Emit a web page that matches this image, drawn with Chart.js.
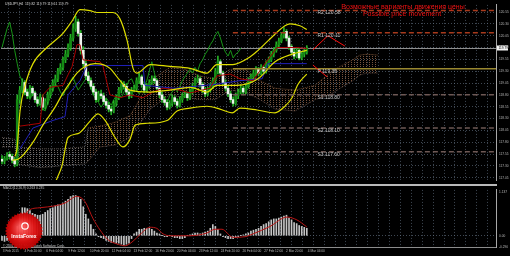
<!DOCTYPE html>
<html><head><meta charset="utf-8">
<script src="https://cdn.jsdelivr.net/npm/chart.js@4.4.1/dist/chart.umd.min.js"></script>
<style>
html,body{margin:0;padding:0;background:#000;width:510px;height:256px;overflow:hidden}
#wrap{position:relative;width:510px;height:256px;background:#000}
canvas{position:absolute;left:0}
#cMain{top:0}
#cMacd{top:185px}
#sep{position:absolute;left:0;top:184px;width:497px;height:2px;background:#b9b9b9}
</style></head><body>
<div id="wrap">
<canvas id="cMain" width="510" height="185"></canvas>
<canvas id="cMacd" width="510" height="71"></canvas>
<div id="sep"></div>
</div>
<script>
// ---------- DATA ----------
const symbolTitle = "USDJPY,H4  119.82 119.79 119.61 119.79";
const macdTitle = "MACD(12,26,9) 0.263 0.235";
const copyrightText = "© 2001-2014, MetaQuotes Software Corp.";
const noteRu = "Возможные варианты движения цены";
const noteEn = "Possible price movement";
const logoText = "InstaForex";

const xLabels = ["3 Feb 2015","4 Feb 20:00","6 Feb 04:00","9 Feb 12:00","10 Feb 20:00","12 Feb 04:00","13 Feb 12:00","16 Feb 20:00","20 Feb 04:00","23 Feb 12:00","24 Feb 20:00","26 Feb 04:00","27 Feb 12:00","2 Mar 20:00","4 Mar 04:00"];
const priceTicks = ["120.55","120.30","120.05","119.80","119.55","119.30","119.05","118.80","118.55","118.30","118.05","117.80","117.55","117.30","117.05"];
const macdTicks = [1.137, 0, -0.290];
const macdTickLabels = ["1.137","0.00","-0.290"];

const openP = [
117.44,117.40,117.46,117.54,117.50,117.42,117.34,118.70,118.90,119.06,
118.86,118.78,118.94,118.84,118.70,118.62,118.74,118.54,118.66,118.80,
118.94,119.06,119.14,119.30,119.38,119.54,119.66,119.80,120.00,120.20,
120.34,120.10,119.74,119.46,119.20,119.10,118.98,118.86,118.70,118.82,
118.78,118.66,118.58,118.50,118.46,118.62,118.74,118.90,119.02,118.98,
118.86,118.78,118.90,118.94,119.10,119.18,119.02,118.90,118.98,119.06,
119.14,119.10,118.94,118.80,118.70,118.64,118.54,118.62,118.74,118.66,
118.58,118.70,118.78,118.82,118.74,118.86,118.98,119.10,119.14,119.02,
118.90,118.82,118.90,118.98,119.10,119.30,119.50,119.26,119.06,118.94,
118.82,118.70,118.62,118.78,118.86,118.94,118.86,118.98,119.10,119.18,
119.26,119.34,119.26,119.38,119.30,119.46,119.54,119.66,119.74,119.86,
119.94,120.06,120.14,120.00,119.82,119.70,119.62,119.74,119.58,119.66,
119.70];
const highP = [
117.52,117.50,117.58,117.60,117.55,117.48,118.80,118.98,119.14,119.10,
118.92,119.00,118.98,118.88,118.76,118.82,118.80,118.72,118.86,119.00,
119.12,119.22,119.36,119.46,119.60,119.74,119.88,120.08,120.30,120.46,
120.40,120.16,119.82,119.54,119.28,119.16,119.04,118.92,118.88,118.90,
118.84,118.72,118.64,118.56,118.68,118.80,118.96,119.10,119.08,119.04,
118.92,118.96,119.00,119.16,119.26,119.22,119.08,119.04,119.12,119.20,
119.20,119.14,118.98,118.86,118.76,118.70,118.68,118.80,118.78,118.72,
118.76,118.84,118.88,118.86,118.92,119.04,119.16,119.22,119.18,119.06,
118.96,118.96,119.04,119.16,119.36,119.62,119.54,119.30,119.12,119.00,
118.88,118.76,118.84,118.92,119.00,118.98,119.04,119.16,119.24,119.32,
119.40,119.38,119.44,119.42,119.52,119.60,119.72,119.80,119.92,120.00,
120.12,120.22,120.18,120.04,119.86,119.76,119.80,119.78,119.72,119.76,
119.84];
const lowP = [
117.34,117.34,117.42,117.44,117.36,117.28,117.30,118.62,118.84,118.80,
118.72,118.74,118.78,118.64,118.56,118.58,118.48,118.50,118.60,118.74,
118.88,119.00,119.08,119.24,119.32,119.48,119.60,119.74,119.94,120.14,
120.04,119.66,119.40,119.12,119.04,118.92,118.80,118.64,118.66,118.72,
118.60,118.52,118.44,118.38,118.42,118.56,118.70,118.84,118.92,118.80,
118.72,118.74,118.86,118.90,119.04,118.96,118.84,118.86,118.94,119.02,
119.04,118.88,118.74,118.64,118.58,118.48,118.50,118.56,118.60,118.52,
118.54,118.64,118.74,118.68,118.70,118.82,118.94,119.06,118.96,118.84,
118.76,118.78,118.86,118.94,119.04,119.24,119.20,119.00,118.88,118.76,
118.64,118.56,118.58,118.72,118.82,118.80,118.82,118.94,119.06,119.12,
119.20,119.20,119.22,119.24,119.26,119.40,119.50,119.60,119.70,119.80,
119.90,120.00,119.94,119.76,119.64,119.56,119.58,119.54,119.54,119.60,
119.66];
const closeP = [
117.40,117.46,117.54,117.50,117.42,117.34,118.70,118.90,119.06,118.86,
118.78,118.94,118.84,118.70,118.62,118.74,118.54,118.66,118.80,118.94,
119.06,119.14,119.30,119.38,119.54,119.66,119.80,120.00,120.20,120.34,
120.10,119.74,119.46,119.20,119.10,118.98,118.86,118.70,118.82,118.78,
118.66,118.58,118.50,118.46,118.62,118.74,118.90,119.02,118.98,118.86,
118.78,118.90,118.94,119.10,119.18,119.02,118.90,118.98,119.06,119.14,
119.10,118.94,118.80,118.70,118.64,118.54,118.62,118.74,118.66,118.58,
118.70,118.78,118.82,118.74,118.86,118.98,119.10,119.14,119.02,118.90,
118.82,118.90,118.98,119.10,119.30,119.50,119.26,119.06,118.94,118.82,
118.70,118.62,118.78,118.86,118.94,118.86,118.98,119.10,119.18,119.26,
119.34,119.26,119.38,119.30,119.46,119.54,119.66,119.74,119.86,119.94,
120.06,120.14,120.00,119.82,119.70,119.62,119.74,119.58,119.66,119.70,
119.79];

// Chikou span (green), starts at bar 0
const chikouSpan = [
119.80,120.00,120.20,120.34,120.10,119.74,119.46,119.20,119.10,118.98,
118.86,118.70,118.82,118.78,118.66,118.58,118.50,118.46,118.62,118.74,
118.90,119.02,118.98,118.86,118.78,118.90,118.94,119.10,119.18,119.02,
118.90,118.98,119.06,119.14,119.10,118.94,118.80,118.70,118.64,118.54,
118.62,118.74,118.66,118.58,118.70,118.78,118.82,118.74,118.86,118.98,
119.10,119.14,119.02,118.90,118.82,118.90,118.98,119.10,119.30,119.50,
119.26,119.06,118.94,118.82,118.70,118.62,118.78,118.86,118.94,118.86,
118.98,119.10,119.18,119.26,119.34,119.26,119.38,119.30,119.46,119.54,
119.66,119.74,119.86,119.94,120.06,120.14,120.00,119.82,119.70,119.62,
119.74,119.58,119.66,119.70,119.79];

// [bar, price] readings
const bbUpper = [[5.1,117.50],[5.9,117.66],[7.1,118.46],[9.1,119.00],[12.2,119.46],[17.7,119.80],[24.0,120.10],[27.6,120.36],[30.7,120.60],[34.6,120.58],[37.4,120.54],[43.7,120.54],[46.5,120.40],[49.2,119.96],[51.6,119.36],[53.1,119.26],[58.3,119.44],[66.1,119.40],[74.0,119.36],[80.7,119.26],[84.6,119.44],[90.9,119.44],[97.6,119.60],[100.8,119.74],[104.7,119.94],[111.4,120.26],[113.4,120.30],[117.3,120.26],[120.0,120.18]];
const bbMiddle = [[4.0,117.42],[6.3,117.44],[12.2,117.80],[16.1,118.16],[20.9,118.54],[23.6,118.80],[26.8,119.06],[29.5,119.26],[32.7,119.40],[36.6,119.46],[39.8,119.44],[42.5,119.36],[46.5,119.10],[50.4,118.90],[58.3,118.86],[66.1,118.90],[74.0,118.96],[80.7,118.86],[84.6,119.00],[92.5,119.00],[100.8,119.14],[107.5,119.50],[114.2,119.66],[120.0,119.74]];
const bbLower = [[18.9,116.70],[21.7,117.04],[23.6,117.30],[26.0,117.90],[29.9,117.98],[34.6,118.24],[37.8,118.40],[40.6,118.26],[44.5,117.90],[47.6,117.70],[50.4,117.86],[52.4,118.16],[57.1,118.20],[65.0,118.26],[68.9,118.46],[74.0,118.52],[80.7,118.56],[85.8,118.50],[90.6,118.42],[93.7,118.52],[100.4,118.48],[107.5,118.42],[111.4,118.56],[114.2,118.74],[116.5,119.02],[120.0,119.24]];
const tenkan = [[7.1,118.14],[15.0,118.20],[16.1,118.80],[18.9,118.96],[24.0,119.00],[27.6,119.40],[29.5,119.86],[30.7,119.86],[31.9,119.54],[38.6,119.50],[39.8,119.40],[41.3,119.06],[42.5,118.80],[46.5,118.74],[50.4,118.80],[55.5,118.74],[59.4,118.86],[63.4,118.94],[70.1,118.90],[74.0,118.84],[81.9,118.94],[84.6,119.20],[89.8,119.24],[93.7,119.14],[98.8,119.10],[103.5,119.46],[108.3,119.80],[116.1,119.80],[120.0,119.78]];
const kijun = [[7.1,117.66],[12.2,118.10],[20.1,118.26],[24.8,118.34],[26.0,118.80],[30.7,119.10],[33.5,119.42],[55.5,119.42],[56.3,119.00],[68.1,118.94],[83.9,119.02],[93.7,119.10],[102.4,119.14],[104.7,119.46],[120.0,119.46]];
// Ichimoku cloud: bullish (grey) part and bearish (brown) part
const cloudGreyX = [0,5.1,5.9,15.0,22.8,32.7,33.9];
const spanAGrey  = [117.90,117.86,117.70,117.66,117.66,117.70,118.10];
const spanBGrey  = [117.70,117.70,117.34,117.26,117.30,117.34,117.40];
const cloudBrownX = [33.9,38.6,44.5,50.4,53.1,58.3,66.1,72.0,78.0,83.9,89.8,95.7,101.6,107.5,115.4,123.2,129.1,133.1,138.2,140.9,143.7,148.0];
const spanABrown  = [118.10,118.14,118.22,118.36,118.60,119.10,119.38,119.34,119.20,119.14,119.34,119.34,119.10,118.94,118.90,119.00,119.26,119.40,119.54,119.64,119.66,119.64];
const spanBBrown  = [117.40,117.70,117.74,117.90,118.10,118.50,118.80,118.74,118.70,118.70,118.90,118.86,118.70,118.50,118.46,118.70,118.80,118.94,119.10,119.22,119.26,119.26];

const levelNames = ["R2","R1","P","S1","S2","S3"];
const levelValues = [120.58,120.11,119.35,118.80,118.10,117.60];
const levelStart = 90.9;
const levelLabelAt = 124.2;

const moveUp = [[122.4,119.75],[128.3,120.05],[135.0,119.83]];
const moveDown = [[122.4,119.43],[128.0,119.18]];

const macdHist = [
-0.121,-0.145,-0.121,-0.097,-0.073,-0.097,0.242,0.557,0.726,0.726,
0.702,0.653,0.581,0.557,0.532,0.532,0.557,0.605,0.653,0.702,
0.726,0.774,0.799,0.799,0.847,0.895,0.944,1.016,1.041,1.041,
1.016,0.944,0.750,0.557,0.436,0.290,0.169,0.048,-0.024,-0.048,
-0.073,-0.121,-0.145,-0.169,-0.169,-0.194,-0.194,-0.218,-0.242,-0.218,
-0.194,-0.073,0.048,0.097,0.169,0.169,0.194,0.194,0.194,0.169,
0.121,0.073,0.048,0.005,-0.024,-0.024,0.005,-0.024,-0.048,-0.048,
-0.073,-0.073,-0.048,0.005,0.024,0.048,0.073,0.073,0.048,0.073,
0.097,0.121,0.194,0.290,0.242,0.169,0.048,-0.024,-0.048,-0.073,
-0.073,-0.073,-0.048,-0.024,0.005,0.024,0.048,0.073,0.121,0.145,
0.169,0.194,0.242,0.290,0.315,0.363,0.411,0.436,0.436,0.460,
0.484,0.508,0.532,0.460,0.411,0.339,0.315,0.266,0.242,0.218,
0.194];
const macdSignal = [[9.1,0.557],[11.0,0.678],[15.0,0.726],[20.9,0.774],[24.8,0.847],[29.5,1.020],[32.7,0.880],[35.8,0.450],[38.6,0.150],[41.7,-0.100],[45.7,-0.220],[48.4,-0.260],[51.6,-0.140],[54.3,0.030],[58.3,0.220],[61.0,0.190],[63.4,0.050],[66.1,0.000],[74.0,0.000],[80.7,0.073],[83.9,0.169],[86.6,0.169],[90.9,-0.040],[95.7,-0.024],[98.8,0.048],[105.5,0.242],[112.2,0.484],[116.1,0.411],[120.0,0.230]];

// ---------- STYLE / LAYOUT ----------
Chart.defaults.font.family = "'Liberation Sans', Arial, sans-serif";
const GRID = 'rgba(105,120,138,0.6)';
const AXIS_TXT = '#b8b8b8';
const XMIN = -0.39, XMAX = 194.49;
function gridTicks(){ const t=[]; for(let k=0;;k++){ const v=0.3+k*4.29; if(v>XMAX) break; t.push({value:v}); } return t; }
function pts(pairs){ return pairs.map(p=>({x:p[0],y:p[1]})); }
function lineDs(data,color,width,order,extra){
  return Object.assign({type:'line',data,borderColor:color,borderWidth:width,pointRadius:0,pointHoverRadius:0,fill:false,order,cubicInterpolationMode:'monotone'},extra||{});
}
const straight = {cubicInterpolationMode:'default',tension:0};

const mainCanvas = document.getElementById('cMain');
const mctx = mainCanvas.getContext('2d');
function dotPattern(color){
  const pc = document.createElement('canvas'); pc.width=3; pc.height=2;
  const pg = pc.getContext('2d'); pg.fillStyle=color; pg.fillRect(0,0,1,1);
  return mctx.createPattern(pc,'repeat');
}
const greyCloud = dotPattern('rgba(150,140,135,0.75)');
const brownCloud = dotPattern('rgba(140,98,70,0.85)');

const bars = closeP.map((_,i)=>i);
const bodyColors = bars.map(i => closeP[i] >= openP[i] ? '#158a15' : '#eef6ee');

const datasets = [
  lineDs(cloudGreyX.map((x,k)=>({x,y:spanAGrey[k]})),'rgba(150,140,135,0.8)',0.7,20,Object.assign({borderDash:[1,1]},straight)),
  lineDs(cloudGreyX.map((x,k)=>({x,y:spanBGrey[k]})),'rgba(150,140,135,0.8)',0.7,20,Object.assign({borderDash:[1,1],fill:'-1',backgroundColor:greyCloud},straight)),
  lineDs(cloudBrownX.map((x,k)=>({x,y:spanABrown[k]})),'rgba(150,100,65,0.9)',0.8,20,Object.assign({borderDash:[1,1]},straight)),
  lineDs(cloudBrownX.map((x,k)=>({x,y:spanBBrown[k]})),'rgba(130,105,100,0.85)',0.8,20,Object.assign({borderDash:[1,1],fill:'-1',backgroundColor:brownCloud},straight)),
  lineDs(chikouSpan.map((v,i)=>({x:i,y:v})),'#189418',1,15,straight),
  {type:'bar',data:bars.map(i=>({x:i,y:[lowP[i],highP[i]]})),backgroundColor:'#26b326',barThickness:1,grouped:false,order:10},
  {type:'bar',data:bars.map(i=>({x:i,y:[openP[i],closeP[i]]})),backgroundColor:bodyColors,barThickness:2,grouped:false,order:9},
  lineDs(pts(bbUpper),'#dede00',1.2,5),
  lineDs(pts(bbMiddle),'#dede00',1.2,5),
  lineDs(pts(bbLower),'#dede00',1.2,5),
  lineDs(pts(tenkan),'#a80000',1,5,straight),
  lineDs(pts(kijun),'#2020b8',1,5,straight),
];
levelNames.forEach((n,k)=>{
  const isP = n==='P', isR = n[0]==='R';
  datasets.push(lineDs([{x:levelStart,y:levelValues[k]},{x:XMAX,y:levelValues[k]}],
    isP ? '#9a8830' : (isR ? '#a83a1c' : '#6e5854'), 1.5, 3,
    isP ? straight : Object.assign({borderDash:[5,3]},straight)));
});
datasets.push(lineDs(pts(moveUp),'#ff1010',1,2,straight));
datasets.push(lineDs(pts(moveDown),'#ff1010',1,2,straight));

const overlay = {
  id:'overlay',
  beforeDatasetsDraw(ch){
    const {ctx, chartArea:a} = ch; const y = Math.round(ch.scales.y.getPixelForValue(closeP[closeP.length-1]))+0.5;
    ctx.save(); ctx.strokeStyle='#8e8e8e'; ctx.lineWidth=1; ctx.beginPath(); ctx.moveTo(a.left,y); ctx.lineTo(a.right,y); ctx.stroke(); ctx.restore();
  },
  afterDraw(ch){
    const {ctx, chartArea:a, scales:{x,y}} = ch;
    ctx.save();
    const cy = y.getPixelForValue(closeP[closeP.length-1]);
    ctx.fillStyle='#f4f4f4'; ctx.fillRect(a.right+1, cy-2.5, 11, 5);
    ctx.fillStyle='#000'; ctx.font="3.2px 'Liberation Sans'"; ctx.textBaseline='middle'; ctx.textAlign='left';
    ctx.fillText(closeP[closeP.length-1].toFixed(2), a.right+2.5, cy);
    ctx.font="5px 'Liberation Sans'"; ctx.fillStyle='#c6c6c6';
    levelNames.forEach((n,k)=>{ ctx.fillText(n+' '+levelValues[k].toFixed(2), x.getPixelForValue(levelLabelAt), y.getPixelForValue(levelValues[k])+2.5); });
    ctx.font="3.4px 'Liberation Sans'"; ctx.fillStyle='#dcdcdc'; ctx.textBaseline='top';
    ctx.fillText(symbolTitle, 5, 2);
    ctx.font="7px 'Liberation Sans'"; ctx.fillStyle='#ee1010'; ctx.textAlign='center'; ctx.textBaseline='middle';
    ctx.fillText(noteRu, 403, 7); ctx.fillText(noteEn, 402, 14.5);
    ctx.restore();
  }
};

new Chart(mainCanvas, {
  type:'bar',
  data:{datasets},
  options:{
    responsive:false, animation:false, events:[],
    layout:{padding:{left:1,right:0,top:0,bottom:2}},
    plugins:{legend:{display:false},tooltip:{enabled:false}},
    scales:{
      x:{type:'linear',min:XMIN,max:XMAX,offset:false,
        afterBuildTicks:s=>{s.ticks=gridTicks();}, afterFit:s=>{s.height=0;},
        ticks:{display:false}, grid:{color:GRID,lineWidth:1,drawTicks:false}, border:{display:false,dash:[1,2]}},
      y:{type:'linear',position:'right',min:117.00,max:120.70,
        afterBuildTicks:s=>{s.ticks=priceTicks.map(t=>({value:parseFloat(t)}));}, afterFit:s=>{s.width=14;},
        ticks:{callback:(v,i)=>priceTicks[i],color:AXIS_TXT,font:{size:3.2},padding:3},
        grid:{color:GRID,lineWidth:1,drawTicks:false}, border:{display:true,color:'#a8a8a8',width:1,dash:[1,2]}}
    }
  },
  plugins:[overlay]
});

// ---------- MACD ----------
const macdOverlay = {
  id:'macdOverlay',
  afterDraw(ch){
    const ctx = ch.ctx; ctx.save();
    ctx.font="3.3px 'Liberation Sans'"; ctx.fillStyle='#c8c8c8'; ctx.textBaseline='top'; ctx.textAlign='left';
    ctx.fillText(macdTitle, 3, 1.5);
    ctx.fillText(copyrightText, 3, 59.5);
    const cx=24, cy=46, R=19, r=17.4, n=36;
    ctx.beginPath();
    for(let k=0;k<2*n;k++){ const ang=k*Math.PI/n; const rr=k%2?r:R; ctx.lineTo(cx+rr*Math.cos(ang), cy+rr*Math.sin(ang)); }
    ctx.closePath();
    const g=ctx.createRadialGradient(cx-3,cy-4,2,cx,cy,R);
    g.addColorStop(0,'#ff5a5a'); g.addColorStop(0.6,'#e01010'); g.addColorStop(1,'#b80000');
    ctx.globalAlpha=0.95; ctx.fillStyle=g; ctx.fill(); ctx.globalAlpha=1;
    ctx.strokeStyle='#fff'; ctx.lineWidth=1.2; ctx.beginPath(); ctx.arc(cx+1,cy-5,3.2,0,Math.PI*2); ctx.stroke();
    ctx.fillStyle='#fff'; ctx.font="bold 5px 'Liberation Sans'"; ctx.textAlign='center'; ctx.textBaseline='middle';
    ctx.fillText(logoText, cx, cy+6);
    ctx.restore();
  }
};

new Chart(document.getElementById('cMacd'), {
  type:'bar',
  data:{datasets:[
    lineDs(pts(macdSignal),'#b81414',1,1),
    {type:'bar',data:macdHist.map((v,i)=>({x:i,y:v})),backgroundColor:'#c4c4c4',barThickness:1,order:2}
  ]},
  options:{
    responsive:false, animation:false, events:[],
    layout:{padding:{left:1,right:0,top:1,bottom:0}},
    plugins:{legend:{display:false},tooltip:{enabled:false}},
    scales:{
      x:{type:'linear',min:XMIN,max:XMAX,offset:false,
        afterBuildTicks:s=>{s.ticks=gridTicks();}, afterFit:s=>{s.height=9;},
        ticks:{autoSkip:false,maxRotation:0,minRotation:0,align:'start',padding:2,color:AXIS_TXT,font:{size:3.2},
          callback:(v,i)=> i%2===0 ? (xLabels[i/2]||'') : ''},
        grid:{color:GRID,drawTicks:false}, border:{display:true,color:'#8c8c8c',width:1,dash:[1,2]}},
      y:{type:'linear',position:'right',min:-0.290,max:1.186,
        afterBuildTicks:s=>{s.ticks=macdTicks.map(v=>({value:v}));}, afterFit:s=>{s.width=14;},
        ticks:{callback:(v,i)=>macdTickLabels[i],color:AXIS_TXT,font:{size:3.2},padding:3},
        grid:{color:c=>(c.tick && c.tick.value===0) ? GRID : 'rgba(0,0,0,0)',drawTicks:false},
        border:{display:true,color:'#a8a8a8',width:1,dash:[1,2]}}
    }
  },
  plugins:[macdOverlay]
});
</script>
</body></html>
